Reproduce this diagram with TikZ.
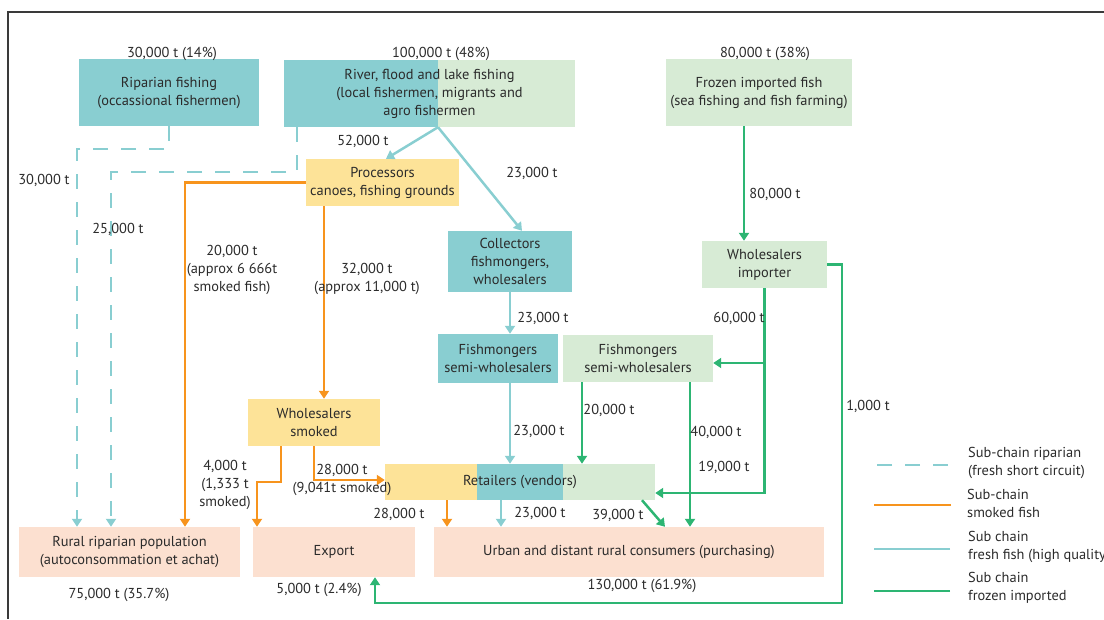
\documentclass[tikz,border=0pt]{standalone}
\usepackage{fontspec}
\setmainfont{PT Sans}
\usetikzlibrary{arrows.meta,calc,positioning}
\definecolor{ink}{HTML}{2B2B2B}
\definecolor{framec}{HTML}{3A3A3A}
\definecolor{freshc}{HTML}{89CED1}
\definecolor{frozenc}{HTML}{D7EBD5}
\definecolor{smokedc}{HTML}{FDE398}
\definecolor{consc}{HTML}{FCE0D0}
\definecolor{orangec}{HTML}{F7941D}
\definecolor{greenc}{HTML}{2DB573}

\begin{document}
\begin{tikzpicture}[x=1pt,y=-1pt,
  txt/.style={text=ink,inner sep=0pt,align=center,font=\fontsize{14.4}{18}\selectfont},
  box/.style={txt},
  freshbox/.style={box,fill=freshc},
  frozenbox/.style={box,fill=frozenc},
  smokedbox/.style={box,fill=smokedc},
  consbox/.style={box,fill=consc},
  lab/.style={txt,anchor=base},
  tip/.style={-{Triangle[width=10pt,length=8pt]}},
  ripline/.style={freshc,line width=2.5pt,dash pattern=on 15pt off 13pt},
  freshline/.style={freshc,line width=2.5pt},
  smokedline/.style={orangec,line width=2.5pt},
  frozenline/.style={greenc,line width=2.5pt}]
  \useasboundingbox (0,0) rectangle (1104,619);
  \draw[framec,line width=1.2pt] (1104,12) -- (8,12) -- (8,619);

  % boxes
  \node[freshbox,minimum width=180pt,minimum height=67pt] (ripfish) at (169,92.5) {Riparian fishing\\(occassional fishermen)};
  \node[frozenbox,minimum width=291pt,minimum height=67pt,
    path picture={\fill[freshc] (path picture bounding box.north west) rectangle ([xshift=154pt]path picture bounding box.south west);}]
    (river) at (429.5,93.5) {River, flood and lake fishing\\(local fishermen, migrants and\\agro fishermen};
  \node[frozenbox,minimum width=186pt,minimum height=67pt] (frozen) at (759,92.5) {Frozen imported fish\\(sea fishing and fish farming)};
  \node[smokedbox,minimum width=153pt,minimum height=47pt] (proc) at (382.5,182.5) {Processors\\canoes, fishing grounds};
  \node[freshbox,minimum width=124pt,minimum height=61pt] (coll) at (510,261.5) {Collectors\\fishmongers,\\wholesalers};
  \node[frozenbox,minimum width=125pt,minimum height=47pt] (whimp) at (764.5,264.5) {Wholesalers\\importer};
  \node[freshbox,minimum width=120pt,minimum height=49pt] (fmteal) at (498,358.5) {Fishmongers\\semi-wholesalers};
  \node[frozenbox,minimum width=150pt,minimum height=47pt] (fmgreen) at (638,358.5) {Fishmongers\\semi-wholesalers};
  \node[smokedbox,minimum width=132pt,minimum height=47pt] (whsmoked) at (314,422.5) {Wholesalers\\smoked};
  \node[frozenbox,minimum width=270pt,minimum height=36pt,
    path picture={\fill[smokedc] (path picture bounding box.north west) rectangle ([xshift=92pt]path picture bounding box.south west);
                  \fill[freshc] ([xshift=92pt]path picture bounding box.north west) rectangle ([xshift=178pt]path picture bounding box.south west);}]
    (retail) at (520,482) {Retailers (vendors)};
  \node[consbox,minimum width=221pt,minimum height=50pt] (rural) at (129.5,552) {Rural riparian population\\(autoconsommation et achat)};
  \node[consbox,minimum width=162pt,minimum height=50pt] (export) at (334,552) {Export};
  \node[consbox,minimum width=390pt,minimum height=50pt] (urban) at (629,552) {Urban and distant rural consumers (purchasing)};

  % quantities
  \node[lab] (ripqty) at (172,57) {30,000 t (14\%)};
  \node[lab] (riverqty) at (441,57) {100,000 t (48\%)};
  \node[lab] (frozenqty) at (765,57) {80,000 t (38\%)};
  \node[lab] (ruralqty) at (119,598) {75,000 t (35.7\%)};
  \node[lab] (exportqty) at (319,593) {5,000 t (2.4\%)};
  \node[lab] (urbanqty) at (642,589) {130,000 t (61.9\%)};

  % riparian sub-chain
  \draw[ripline,tip] (ripfish.south) -- ++(0,23) -| ([xshift=-52.5pt]rural.north);
  \draw[ripline,tip] ([xshift=-132.5pt]river.south) -- ++(0,45) -| ([xshift=-18.5pt]rural.north);
  \node[lab] (ripflow) at (44,184) {30,000 t};
  \node[lab] (riverrip) at (118,233) {25,000 t};

  % smoked sub-chain
  \draw[smokedline,tip] (proc.west) -| ([xshift=55.5pt]rural.north);
  \draw[smokedline,tip] ([xshift=-58.5pt]proc.south) -- ([xshift=-58.5pt]proc.south |- whsmoked.north);
  \draw[smokedline,tip] ([xshift=-33pt]whsmoked.south) -- ++(0,36) -| ([xshift=-77pt]export.north);
  \draw[smokedline,tip] (whsmoked.south) |- ([yshift=2pt]retail.west);
  \draw[smokedline,tip] ([xshift=-73pt]retail.south) -- ([xshift=-73pt]retail.south |- urban.north);
  \node[txt] (procrural) at (232,270) {20,000 t\\(approx 6 666t\\smoked fish)};
  \node[txt] (procwhs) at (367,279) {32,000 t\\(approx 11,000 t)};
  \node[txt] (whsexport) at (225,485) {4,000 t\\(1,333 t\\smoked)};
  \node[txt] (whsretail) at (342,480) {28,000 t\\(9,041t smoked)};
  \node[lab] (retsmoked) at (399,518) {28,000 t};

  % fresh sub-chain
  \draw[freshline,tip] ([xshift=8.5pt]river.south) -- ([xshift=3.5pt]proc.north);
  \draw[freshline,tip] ([xshift=8.5pt]river.south) -- ([xshift=12pt]coll.north);
  \draw[freshline,tip] (coll.south) -- (coll.south |- fmteal.north);
  \draw[freshline,tip] ([xshift=12pt]fmteal.south) -- ([xshift=12pt]fmteal.south |- retail.north);
  \draw[freshline,tip] ([xshift=-19pt]retail.south) -- ([xshift=-19pt]retail.south |- urban.north);
  \node[lab] (riverproc) at (363,145) {52,000 t};
  \node[lab] (rivercoll) at (532,177) {23,000 t};
  \node[lab] (collfm) at (543,322) {23,000 t};
  \node[lab] (fmretail) at (539,435) {23,000 t};
  \node[lab] (retfresh) at (540,517) {23,000 t};

  % frozen sub-chain
  \coordinate (loopcorner) at (842,603);
  \draw[frozenline,tip] ([xshift=-15pt]frozen.south) -- ([xshift=-15pt]frozen.south |- whimp.north);
  \draw[frozenline,tip] (whimp.south) |- ([yshift=-11pt]retail.east);
  \draw[frozenline,tip] ([yshift=-4.5pt]fmgreen.east -| whimp.south) -- ([yshift=-4.5pt]fmgreen.east);
  \draw[frozenline,tip] (whimp.east) -| (loopcorner) -| ([xshift=41pt]export.south);
  \draw[frozenline,tip] ([xshift=-56pt]fmgreen.south) -- ([xshift=-56pt]fmgreen.south |- retail.north);
  \draw[frozenline,tip] ([xshift=52pt]fmgreen.south) -- ([xshift=52pt]fmgreen.south |- urban.north);
  \draw[frozenline,tip] ([xshift=122pt]retail.south) -- ([xshift=36pt]urban.north);
  \node[lab] (frozenwh) at (775,198) {80,000 t};
  \node[lab] (whfm) at (739,322) {60,000 t};
  \node[lab] (fmret) at (609,414) {20,000 t};
  \node[lab] (fmurban) at (716,436) {40,000 t};
  \node[lab] (whret) at (724,471) {19,000 t};
  \node[lab] (whexport) at (868,410) {1,000 t};
  \node[lab] (retfrozen) at (618,519) {39,000 t};

  % legend
  \node[txt,align=left,anchor=west] (legrip) at (968,463) {Sub-chain riparian\\(fresh short circuit)};
  \node[txt,align=left,anchor=west] (legsmoked) at (967,503) {Sub-chain\\smoked fish};
  \node[txt,align=left,anchor=west] (legfresh) at (968,547) {Sub chain\\fresh fish (high quality};
  \node[txt,align=left,anchor=west] (legfrozen) at (968,588) {Sub chain\\frozen imported};
  \draw[ripline] ([shift={(-20pt,-2pt)}]legrip.west) -- ++(-74,0);
  \draw[smokedline] ([shift={(-16pt,-2pt)}]legsmoked.west) -- ++(-77,0);
  \draw[freshline] ([shift={(-18pt,-2pt)}]legfresh.west) -- ++(-76,0);
  \draw[frozenline] ([shift={(-18pt,-3pt)}]legfrozen.west) -- ++(-76,0);
\end{tikzpicture}
\end{document}
